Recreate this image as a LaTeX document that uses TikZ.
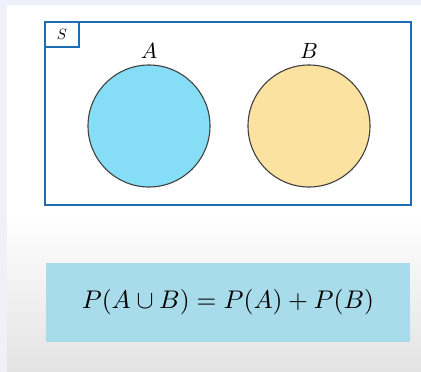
\documentclass[tikz,border=0pt]{standalone}
\usetikzlibrary{positioning}

\definecolor{framblue}{HTML}{1C6DB3}
\definecolor{setablue}{HTML}{86DDF6}
\definecolor{setbsand}{HTML}{FCE2A0}
\definecolor{formbg}{HTML}{A8DCEA}
\definecolor{pagelav}{HTML}{EEF0FA}

\newcommand{\bigmath}[2]{\scalebox{#1}{$#2$}}

\begin{document}
\begin{tikzpicture}[x=1pt, y=-1pt,
        frame/.style={draw=framblue, line width=2.6pt, minimum width=366pt, minimum height=183pt},
        sbox/.style={draw=framblue, line width=2.2pt, minimum width=34pt, minimum height=25pt, inner sep=0pt},
        setcirc/.style={circle, draw=black!75, line width=1.1pt, minimum size=122pt, inner sep=0pt},
        setlabel/.style={inner sep=0pt},
        formula/.style={fill=formbg, minimum width=364pt, minimum height=79pt}
      ]
        % page
        \fill[pagelav] (0,0) rectangle (421,372);
        \fill[white] (7,5) rectangle (421,372);
        \shade[top color=white, bottom color=black!11] (7,215) rectangle (421,372);
        % sample space
        \node[frame] (S) at (228,113.5) {};
        \node[sbox, anchor=north west] (Slab) at (S.north west) {\bigmath{1.5}{S}};
        \node[setcirc, fill=setablue] (A) at (149,126) {};
        \node[setcirc, fill=setbsand] (B) at (309,126) {};
        \node[setlabel, above=6pt of A] (Alab) {\bigmath{2.2}{A}};
        \node[setlabel, above=6pt of B] (Blab) {\bigmath{2.2}{B}};
        % addition rule
        \node[formula] (rule) at (228,302.5) {\bigmath{2.55}{P(A\cup B)=P(A)+P(B)}};
      \end{tikzpicture}
\end{document}
